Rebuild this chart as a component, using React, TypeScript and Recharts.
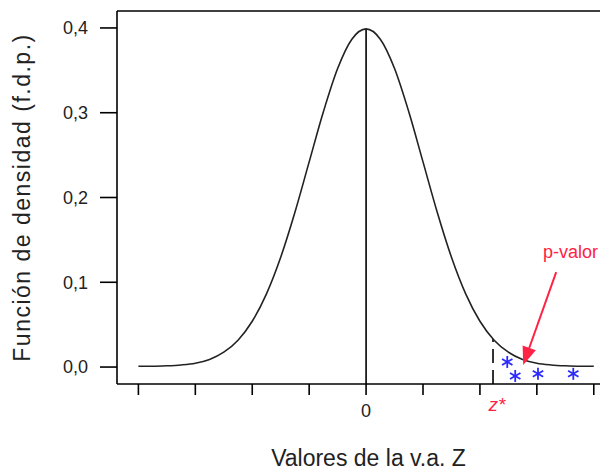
import {
  ComposedChart,
  Line,
  Scatter,
  XAxis,
  YAxis,
  ReferenceLine,
  ReferenceDot,
} from "recharts";

// curve (x in Z units, y density)
const zValues = [
  -4, -3.75, -3.5, -3.25, -3, -2.75, -2.5, -2.25, -2, -1.75, -1.5, -1.25, -1, -0.75, -0.5, -0.25, 0,
  0.25, 0.5, 0.75, 1, 1.25, 1.5, 1.75, 2, 2.25, 2.5, 2.75, 3, 3.25, 3.5, 3.75, 4,
];
const densityValues = [
  0.001, 0.001, 0.0015, 0.0025, 0.0045, 0.009, 0.0175, 0.0317, 0.054, 0.0863, 0.1295, 0.1826, 0.242,
  0.3011, 0.3521, 0.3867, 0.3989, 0.3867, 0.3521, 0.3011, 0.242, 0.1826, 0.1295, 0.0863, 0.054,
  0.0317, 0.0175, 0.009, 0.0045, 0.0025, 0.0015, 0.001, 0.001,
];

// blue asterisks in the rejection tail
const starX = [2.48, 2.62, 3.02, 3.64];
const starY = [0.006, -0.0105, -0.008, -0.008];

const xTicks = [-4, -3, -2, -1, 0, 1, 2, 3, 4];
const yTicks = [0, 0.1, 0.2, 0.3, 0.4];

const zStar = 2.23;
const zStarDensity = 0.033;
const arrowFrom = { x: 3.34, y: 0.112 };
const arrowTo = { x: 2.76, y: 0.0025 };

const RED = "#ff2244";
const BLUE = "#2a2aff";
const FONT = "'Liberation Sans', Arial, sans-serif";

const curveData = zValues.map((z, i) => ({ z, f: densityValues[i] }));
const starData = starX.map((z, i) => ({ z, s: starY[i] }));

const Asterisk = (props: any) => {
  const { cx, cy } = props;
  const r = 6;
  const d = r * 0.87;
  return (
    <g stroke={BLUE} strokeWidth={1.8}>
      <line x1={cx} y1={cy - r} x2={cx} y2={cy + r} />
      <line x1={cx - d} y1={cy - r / 2} x2={cx + d} y2={cy + r / 2} />
      <line x1={cx - d} y1={cy + r / 2} x2={cx + d} y2={cy - r / 2} />
    </g>
  );
};

const ArrowShape = (props: any) => {
  const { x1, y1, x2, y2 } = props;
  if (x1 == null) return null;
  const ang = Math.atan2(y2 - y1, x2 - x1);
  const len = 18;
  const w = 7;
  const bx = x2 - len * Math.cos(ang);
  const by = y2 - len * Math.sin(ang);
  const px = -Math.sin(ang) * w;
  const py = Math.cos(ang) * w;
  return (
    <g>
      <line x1={x1} y1={y1} x2={bx} y2={by} stroke={RED} strokeWidth={2} />
      <polygon points={`${x2},${y2} ${bx + px},${by + py} ${bx - px},${by - py}`} fill={RED} />
    </g>
  );
};

const App = () => {
  return (
    <div style={{ width: 600, height: 464, overflow: "hidden", fontFamily: FONT }}>
      <ComposedChart
        width={600}
        height={464}
        data={curveData}
        margin={{ top: 3, right: 0, bottom: 0, left: 0 }}
      >
        <XAxis
          dataKey="z"
          type="number"
          domain={[-4.376, 4.25]}
          ticks={xTicks}
          tickFormatter={(v: number) => (v === 0 ? "0" : "")}
          height={88}
          stroke="#000"
          tickSize={11}
          tickMargin={9}
          tick={{ fill: "#222", fontSize: 18, fontFamily: FONT }}
          axisLine={{ stroke: "#000", strokeWidth: 1.6 }}
          tickLine={{ stroke: "#000", strokeWidth: 1.6 }}
          allowDataOverflow
          label={{
            value: "Valores de la v.a. Z",
            position: "insideBottom",
            offset: 6,
            fill: "#222",
            fontSize: 23,
            fontFamily: FONT,
            dx: 6,
          }}
        />
        <YAxis
          type="number"
          domain={[-0.02, 0.42]}
          ticks={yTicks}
          tickFormatter={(v: number) => v.toFixed(1).replace(".", ",")}
          width={109}
          tickSize={17}
          tickMargin={12}
          tick={{ fill: "#222", fontSize: 18, fontFamily: FONT }}
          axisLine={{ stroke: "#000", strokeWidth: 1.6 }}
          tickLine={{ stroke: "#000", strokeWidth: 1.6 }}
          allowDataOverflow
          label={{
            value: "Función de densidad (f.d.p.)",
            angle: -90,
            position: "insideLeft",
            offset: 14,
            fill: "#222",
            fontSize: 23,
            fontFamily: FONT,
            style: { textAnchor: "middle", letterSpacing: 1.5 },
          }}
        />
        <ReferenceLine y={0.42} stroke="#000" strokeWidth={1.6} />
        <ReferenceLine
          segment={[
            { x: 0, y: -0.02 },
            { x: 0, y: 0.3989 },
          ]}
          stroke="#000"
          strokeWidth={1.6}
        />
        <ReferenceLine
          segment={[
            { x: zStar, y: -0.02 },
            { x: zStar, y: zStarDensity },
          ]}
          stroke="#000"
          strokeWidth={1.6}
          strokeDasharray="14 7"
        />
        <Line
          dataKey="f"
          type="monotone"
          stroke="#222"
          strokeWidth={1.6}
          dot={false}
          isAnimationActive={false}
        />
        <Scatter
          data={starData}
          dataKey="s"
          shape={Asterisk}
          isAnimationActive={false}
        />
        <ReferenceLine
          segment={[arrowFrom, arrowTo]}
          shape={ArrowShape}
        />
        <ReferenceDot
          x={3.59}
          y={0.136}
          r={0}
          stroke="none"
          label={{ value: "p-valor", position: "center", fill: RED, fontSize: 18, fontFamily: FONT }}
        />
        <ReferenceDot
          x={2.3}
          y={-0.02}
          r={0}
          stroke="none"
          label={{
            value: "z*",
            position: "bottom",
            offset: 14,
            fill: RED,
            fontSize: 19,
            fontStyle: "italic",
            fontFamily: FONT,
          }}
        />
      </ComposedChart>
    </div>
  );
};

export default App;
